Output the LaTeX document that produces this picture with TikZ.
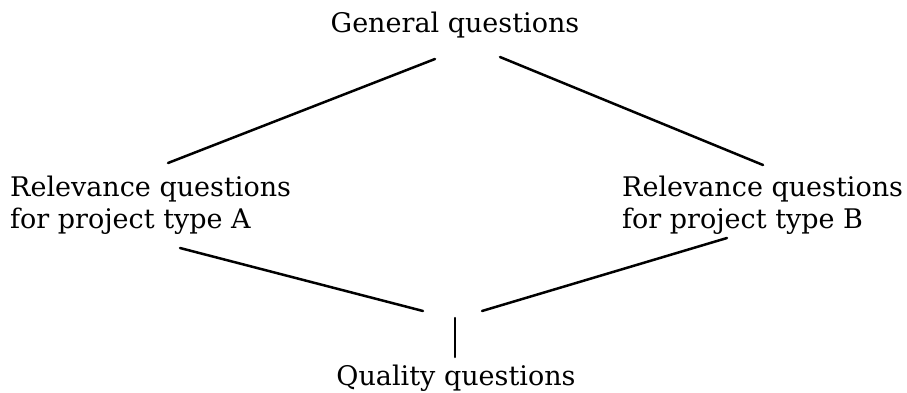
\documentclass[tikz,border=0pt]{standalone}
\usepackage{fontspec}
\setmainfont{DejaVu Serif}
\begin{document}
\begin{tikzpicture}[x=1pt,y=-1pt,
  lbl/.style={inner sep=0pt,font=\fontsize{27}{32}\selectfont},
  conn/.style={line width=2.5pt,line cap=round}]
\useasboundingbox (0,0) rectangle (907,393);
\node[lbl,anchor=base] (gen) at (455,33) {General questions};
\node[lbl,anchor=north west,align=left] (ra) at (10,176) {Relevance questions\\for project type A};
\node[lbl,anchor=north west,align=left] (rb) at (622,176) {Relevance questions\\for project type B};
\node[lbl,anchor=base] (qual) at (456,385) {Quality questions};
% connector ends
\coordinate (g1) at (435,59);
\coordinate (a1) at (168,163);
\coordinate (g2) at (500,57);
\coordinate (b1) at (763,165);
\coordinate (a2) at (180,248);
\coordinate (q1) at (423,311);
\coordinate (b2) at (727,238);
\coordinate (q2) at (482,311);
\coordinate (q3) at (455,318);
\coordinate (q4) at (455,357);
\draw[conn] (g1) -- (a1);
\draw[conn] (g2) -- (b1);
\draw[conn] (a2) -- (q1);
\draw[conn] (b2) -- (q2);
\draw[conn] (q3) -- (q4);
\end{tikzpicture}
\end{document}
